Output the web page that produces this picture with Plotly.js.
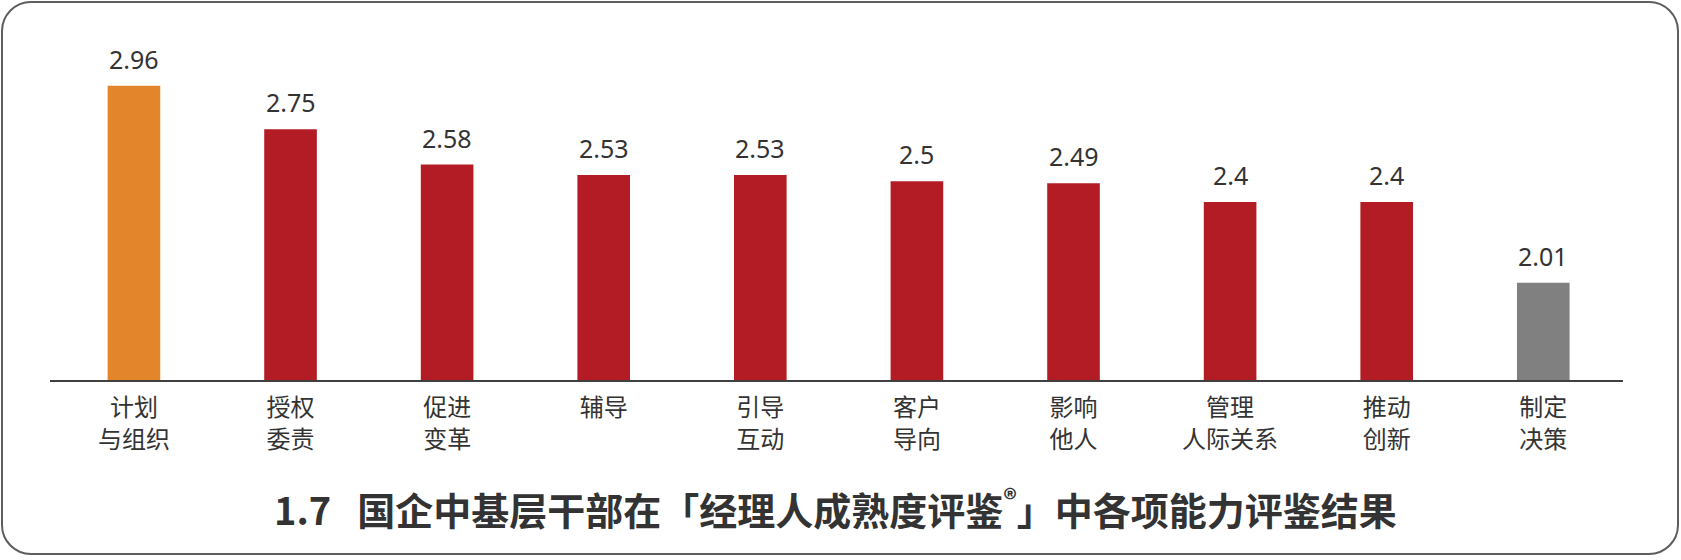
<!DOCTYPE html>
<html>
<head>
<meta charset="utf-8">
<script src="https://cdn.plot.ly/plotly-3.0.1.min.js"></script>
<style>
  body { margin: 0; background: #fff; }
  #wrap { position: relative; width: 1681px; height: 560px; }
  #frame {
    position: absolute; left: 1px; top: 1px; width: 1674px; height: 550px;
    border: 2.5px solid #5e5e5e; border-radius: 30px; pointer-events: none;
  }
  #chart { position: absolute; left: 0; top: 0; width: 1681px; height: 560px; }
</style>
</head>
<body>
<div id="wrap">
  <div id="chart"></div>
  <div id="frame"></div>
</div>
<script>
'use strict'

// Categories and scores
const categories = ['计划<br>与组织', '授权<br>委责', '促进<br>变革', '辅导', '引导<br>互动',
                    '客户<br>导向', '影响<br>他人', '管理<br>人际关系', '推动<br>创新', '制定<br>决策'];
const scores = [2.96, 2.75, 2.58, 2.53, 2.53, 2.5, 2.49, 2.4, 2.4, 2.01];

// Top score in orange, lowest in grey, the rest in red
const barColors = ['#e3852a', '#b31c24', '#b31c24', '#b31c24', '#b31c24',
                   '#b31c24', '#b31c24', '#b31c24', '#b31c24', '#808080'];

const textFont = "'Noto Sans', 'Noto Sans CJK SC', sans-serif";

let bars = {
    x: categories,
    y: scores,
    type: 'bar',
    width: 0.336,
    marker: { color: barColors, line: { width: 0 } },
    hoverinfo: 'skip'
}

// Value labels sitting above each bar
let valueLabels = categories.map((c, i) => ({
    x: c,
    y: scores[i],
    text: String(scores[i]),
    showarrow: false,
    yanchor: 'bottom',
    yshift: 8,
    font: { family: textFont, size: 25, color: '#333333' }
}));

const layout = {
    width: 1681,
    height: 560,
    margin: { l: 50, r: 58, t: 30, b: 180 },
    paper_bgcolor: '#00000000',
    plot_bgcolor: '#00000000',
    showlegend: false,
    title: {
        text: '1.7\u00a0\u00a0\u00a0国企中基层干部在「经理人成熟度评鉴<sup>®</sup>」中各项能力评鉴结果',
        font: { family: "'Noto Sans CJK SC', sans-serif", size: 38, color: '#333333', weight: 'bold' },
        x: 0.497,
        xanchor: 'center',
        xref: 'container',
        y: 0.086,
        yanchor: 'middle',
        yref: 'container'
    },
    xaxis: {
        type: 'category',
        range: [-0.536, 9.509],
        fixedrange: true,
        showgrid: false,
        showline: true,
        linecolor: '#404040',
        linewidth: 1.5,
        ticks: '',
        ticklabelstandoff: 6,
        tickfont: { family: textFont, size: 24, color: '#333333' }
    },
    yaxis: {
        range: [1.542, 3.228],
        fixedrange: true,
        visible: false,
        showgrid: false,
        zeroline: false
    },
    annotations: valueLabels
}

const config = { displayModeBar: false, staticPlot: true }

Plotly.newPlot('chart', [bars], layout, config);
</script>
</body>
</html>
